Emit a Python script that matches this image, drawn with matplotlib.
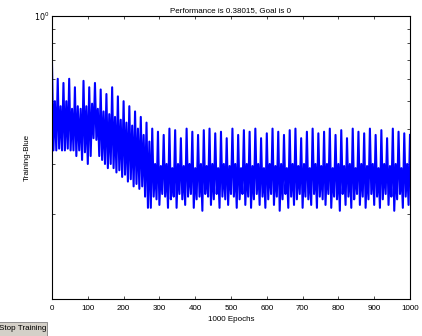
import numpy as np
import matplotlib
matplotlib.use('Agg')
from matplotlib import pyplot as plt
from matplotlib.patches import Rectangle
from matplotlib.ticker import FixedLocator, NullFormatter

plt.rcParams['font.family'] = ['Liberation Sans', 'DejaVu Sans']

# --- Data (performance every 4 epochs) ---
perf_early = [
    0.68, 0.335, 0.50, 0.335, 0.60, 0.34, 0.48, 0.335, 0.58, 0.335,
    0.50, 0.34, 0.60, 0.335, 0.47, 0.335,
    0.56, 0.32, 0.48, 0.335, 0.47, 0.31, 0.59, 0.33, 0.48, 0.30,
    0.56, 0.32, 0.49,
    0.37, 0.58, 0.365, 0.47, 0.32, 0.55, 0.31, 0.46, 0.30,
    0.53, 0.29, 0.45, 0.30, 0.56, 0.29, 0.44, 0.28, 0.52, 0.285,
    0.43, 0.27, 0.50, 0.275, 0.42, 0.26, 0.48, 0.265, 0.41, 0.25,
    0.46, 0.255, 0.40, 0.245, 0.44, 0.25, 0.38, 0.23, 0.42, 0.21,
    0.36,
]
perf_late = [
    0.21, 0.40, 0.23, 0.30, 0.225, 0.39, 0.215, 0.295, 0.235, 0.38,
    0.23, 0.30, 0.21, 0.40, 0.225, 0.29, 0.23, 0.395, 0.21, 0.30,
    0.235, 0.37, 0.225, 0.295, 0.215, 0.40, 0.23, 0.30, 0.235, 0.39,
    0.21, 0.29, 0.225, 0.38, 0.23, 0.30, 0.205, 0.395, 0.235, 0.295,
    0.23, 0.40, 0.215, 0.30, 0.225, 0.385, 0.235, 0.29, 0.21, 0.39,
    0.23, 0.30, 0.225, 0.37, 0.215, 0.295, 0.235, 0.40, 0.23, 0.30,
    0.21, 0.38, 0.225, 0.29, 0.235, 0.395, 0.215, 0.30, 0.23, 0.39,
    0.21, 0.295, 0.225, 0.40, 0.235, 0.30, 0.215, 0.37, 0.23, 0.29,
    0.21, 0.385, 0.225, 0.30, 0.235, 0.40, 0.215, 0.295, 0.23, 0.39,
    0.205, 0.30, 0.225, 0.38, 0.235, 0.29, 0.21, 0.395, 0.23, 0.30,
    0.215, 0.40, 0.225, 0.295, 0.235, 0.37, 0.21, 0.30, 0.23, 0.39,
    0.225, 0.29, 0.215, 0.40, 0.235, 0.30, 0.21, 0.385, 0.23, 0.295,
    0.225, 0.39, 0.215, 0.30, 0.235, 0.40, 0.21, 0.29, 0.23, 0.38,
    0.225, 0.30, 0.205, 0.395, 0.235, 0.295, 0.215, 0.37, 0.23, 0.30,
    0.21, 0.40, 0.225, 0.29, 0.235, 0.39, 0.215, 0.30, 0.23, 0.385,
    0.21, 0.295, 0.225, 0.40, 0.235, 0.30, 0.215, 0.38, 0.23, 0.29,
    0.21, 0.395, 0.225, 0.30, 0.235, 0.37, 0.215, 0.295, 0.23, 0.40,
    0.205, 0.30, 0.225, 0.39, 0.235, 0.29, 0.21, 0.385, 0.23, 0.30,
    0.215, 0.38,
]
perf = np.array(perf_early + perf_late)
epochs = np.linspace(0, 1000, len(perf))

x_ticks = [0, 100, 200, 300, 400, 500, 600, 700, 800, 900, 1000]
y_minor = [0.2, 0.3, 0.4, 0.5, 0.6, 0.7, 0.8, 0.9]

title_text = 'Performance is 0.38015, Goal is 0'
fs = 5.8

# --- Figure ---
fig = plt.figure(figsize=(4.22, 3.36), dpi=100)
ax = fig.add_axes([52/422, 1 - 299/336, 358/422, 283/336])

ax.plot(epochs, perf, color=(0, 0, 1), linewidth=1.5)

ax.set_yscale('log')
ax.set_xlim(0, 1000)
ax.set_ylim(0.1, 1)
ax.set_xticks(x_ticks)
ax.set_xticklabels([str(t) for t in x_ticks], fontsize=fs)
ax.yaxis.set_major_locator(FixedLocator([1.0]))
ax.set_yticklabels(['$10^0$'], fontsize=fs)
ax.yaxis.set_minor_locator(FixedLocator(y_minor))
ax.yaxis.set_minor_formatter(NullFormatter())

ax.tick_params(which='both', direction='in', top=True, right=True,
               length=2.5, width=0.5)
ax.tick_params(axis='x', pad=4)
ax.tick_params(axis='y', pad=2)
for sp in ax.spines.values():
    sp.set_linewidth(0.8)

ax.set_title(title_text, fontsize=fs, pad=3)
ax.set_xlabel('1000 Epochs', fontsize=fs, labelpad=3)
ax.set_ylabel('Training-Blue', fontsize=fs, labelpad=2)

# --- "Stop Training" button ---
fig.patches.append(Rectangle((-2/422, 0), 49/422, 14/336, transform=fig.transFigure,
                             facecolor='#d4d0c8', edgecolor='#808080',
                             linewidth=0.6, figure=fig))
fig.text(-1/422, 7/336, 'Stop Training', fontsize=fs, va='center', ha='left')

plt.savefig('out.png', dpi=100)
